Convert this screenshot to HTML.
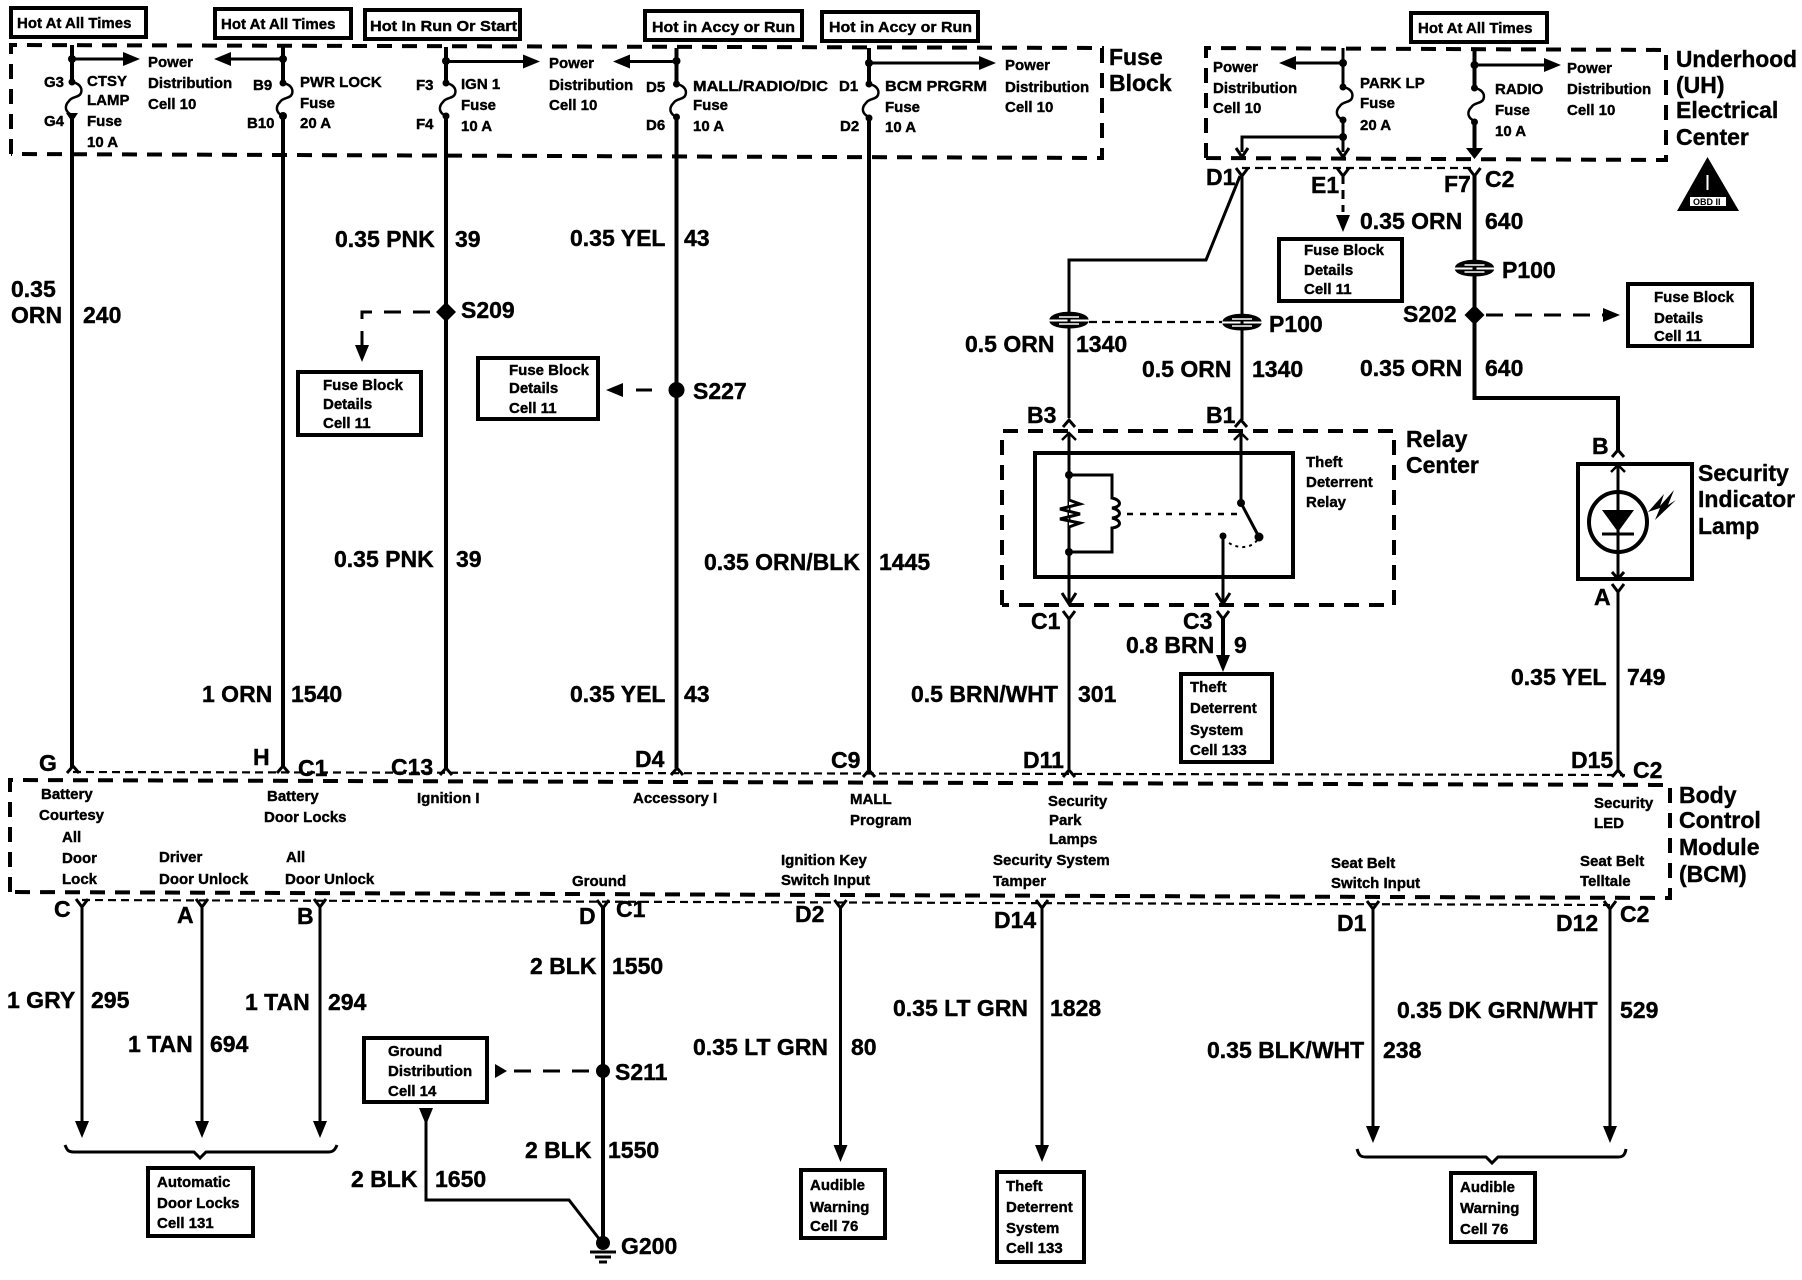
<!DOCTYPE html>
<html><head><meta charset="utf-8"><style>
html,body{margin:0;padding:0;background:#fff}
svg{display:block}
text{font-family:"Liberation Sans",sans-serif;font-weight:700;fill:#000;stroke:#000;stroke-width:.4}
.s text,text.s{font-size:15px}
.m text,text.m{font-size:23px}
.w{fill:none;stroke:#000;stroke-width:4}
.t{fill:none;stroke:#000;stroke-width:3}
.d{fill:none;stroke:#000;stroke-width:4;stroke-dasharray:15 10}
.h{fill:none;stroke:#000;stroke-width:2.2;stroke-dasharray:8 5}
.e{fill:none;stroke:#000;stroke-width:3;stroke-dasharray:17 12}
.b{fill:#fff;stroke:#000;stroke-width:4}
</style></head><body>
<svg xmlns="http://www.w3.org/2000/svg" width="1802" height="1280" viewBox="0 0 1802 1280">
<defs>
<path id="ad" d="M0 0L-7 -17L7 -17Z"/>
<path id="ar" d="M0 0L-17 -7L-17 7Z"/>
<path id="al" d="M0 0L17 -7L17 7Z"/>
<path id="au" d="M-7 7L0 0L7 7M0 0V12" fill="none" stroke="#000" stroke-width="2.5"/>
<path id="ou" d="M-6 7L0 0L6 7" fill="none" stroke="#000" stroke-width="3"/>
<path id="yd" d="M-6 -7L0 1L6 -7" fill="none" stroke="#000" stroke-width="3"/>
<path id="fu" d="M0 0C6 1 11 5 9 11C7 16 0 14 -3 19C-8 24 -7 30 0 33" fill="none" stroke="#000" stroke-width="2.5"/>
<g id="p1"><path d="M-19 -1C-16 -10 16 -10 19 -1L-19 -1ZM-19 2C-16 10 16 10 19 2Z" fill="#000" stroke="#000" stroke-width="1"/><path d="M-10 -3H10M-10 4H10" stroke="#fff" stroke-width="1.500"/></g>
<path id="dm" d="M0 -10L10 0L0 10L-10 0Z"/>
</defs>

<!-- dashed module outlines -->
<path class="d" d="M11 154V45L1102 48V158L11 154"/>
<path class="d" d="M1206 158V48L1666 50V160L1206 158"/>
<path class="d" d="M1002 605V431H1394V605H1002"/>
<path class="d" d="M10 892V780L1670 785V898L10 892"/>
<path class="h" d="M73 772L1625 775"/>
<path class="h" d="M82 900L1610 905"/>
<path class="h" d="M1242 168H1474"/>

<!-- source boxes -->
<g class="b">
<rect class="b" x="11" y="8" width="135" height="29"/>
<rect class="b" x="215" y="9" width="136" height="29"/>
<rect class="b" x="365" y="10" width="155" height="29"/>
<rect class="b" x="645" y="11" width="157" height="29"/>
<rect class="b" x="822" y="12" width="156" height="29"/>
<rect class="b" x="1411" y="13" width="136" height="29"/>
<rect class="b" x="1279" y="239" width="123" height="62"/>
<rect class="b" x="1628" y="284" width="124" height="62"/>
<rect class="b" x="298" y="372" width="123" height="63"/>
<rect class="b" x="478" y="358" width="120" height="61"/>
<rect class="b" x="1181" y="674" width="91" height="88"/>
<rect class="b" x="364" y="1038" width="123" height="64"/>
<rect class="b" x="148" y="1168" width="105" height="68"/>
<rect class="b" x="801" y="1170" width="84" height="68"/>
<rect class="b" x="997" y="1172" width="87" height="90"/>
<rect class="b" x="1451" y="1173" width="84" height="69"/>
<rect class="b" x="1035" y="453" width="258" height="124"/>
<rect class="b" x="1578" y="464" width="114" height="115"/>
</g>

<!-- main vertical wires -->
<path class="w" d="M72 45V82M72 115V768"/>
<path class="w" d="M283 45V82M283 115V768"/>
<path class="w" d="M446 47V83M446 116V768"/>
<path class="w" d="M676.500 48V83M676.500 116V768"/>
<path class="w" d="M869 48V84M869 117V770"/>
<use href="#fu" x="72" y="82"/><use href="#fu" x="283" y="83"/><use href="#fu" x="446" y="83"/><use href="#fu" x="676.500" y="84"/><use href="#fu" x="869" y="84"/>
<g fill="#000">
<circle cx="72" cy="59" r="4"/><circle cx="72" cy="82" r="3.500"/><path d="M66 113H78L72 122Z"/>
<circle cx="283" cy="59" r="4"/><circle cx="283" cy="83" r="3.500"/><circle cx="283" cy="116" r="4"/>
<circle cx="446" cy="61" r="4"/><circle cx="446" cy="83" r="3.500"/><circle cx="446" cy="116" r="3.500"/>
<circle cx="676.500" cy="61" r="4"/><circle cx="676.500" cy="84" r="3.500"/><circle cx="676.500" cy="117" r="3.500"/>
<circle cx="869" cy="63" r="4"/><circle cx="869" cy="84" r="3.500"/><circle cx="869" cy="118" r="3.500"/>
</g>
<path class="t" d="M72 59H125M283 59H228M446 61.500H525M676.500 61.500H628M869 63H980M1343 63H1293M1474.500 65H1547"/>
<use href="#ar" x="140" y="59"/><use href="#al" x="214" y="59"/><use href="#ar" x="540" y="61.500"/><use href="#al" x="613" y="61.500"/><use href="#ar" x="996" y="63"/><use href="#al" x="1279" y="63"/><use href="#ar" x="1561" y="65"/>

<!-- underhood wires -->
<path class="t" d="M1343 48V87M1343 120V152M1343 137H1242V152"/>
<path class="w" d="M1474.500 50V87M1474.500 120V152"/>
<use href="#fu" x="1343" y="87"/><use href="#fu" x="1474.500" y="88"/>
<g fill="#000">
<circle cx="1343" cy="63" r="4"/><circle cx="1343" cy="87" r="3.500"/><circle cx="1343" cy="120" r="3.500"/><circle cx="1343" cy="137" r="4"/>
<circle cx="1474.500" cy="65" r="4"/><circle cx="1474.500" cy="88" r="3.500"/><circle cx="1474.500" cy="122" r="3.500"/>
</g>
<path class="t" d="M1236 148L1242 157L1248 148M1337 148L1343 157L1349 148"/>
<path d="M1466 148L1474.500 159L1483 148Z"/>
<use href="#yd" x="1242" y="175"/><use href="#yd" x="1343" y="175"/><use href="#yd" x="1474.500" y="175"/>

<!-- D1 / E1 / F7 paths -->
<path class="t" d="M1242 175V420"/>
<path class="t" d="M1240 176L1206 260H1069V418"/>
<path d="M1343 175V212" fill="none" stroke="#000" stroke-width="3" stroke-dasharray="9 6"/>
<use href="#ad" x="1343" y="232"/>
<path class="w" d="M1474.500 175V398H1618V450"/>
<use href="#p1" x="1069" y="320"/><use href="#p1" x="1242" y="322"/><use href="#p1" x="1474.500" y="268"/>
<path class="h" d="M1089 322H1222"/>
<use href="#dm" x="1474.500" y="315"/>
<path class="e" d="M1486 315H1603"/>
<use href="#ar" x="1620" y="315"/>
<use href="#ou" x="1069" y="420"/><use href="#ou" x="1241" y="420"/>

<!-- relay -->
<path class="t" d="M1069 433V603M1241 433V503"/>
<use href="#au" x="1069" y="433"/><use href="#au" x="1241" y="433"/>
<path class="t" d="M1069 475H1112V498C1122 500 1122 507 1112 508C1122 510 1122 517 1112 518C1122 520 1122 527 1112 528V552H1069"/>
<path d="M1069 500L1080 504L1060 509L1080 514L1060 519L1080 523L1069 527" fill="#fff" stroke="#000" stroke-width="3"/>
<path d="M1127 514H1239" fill="none" stroke="#000" stroke-width="2.500" stroke-dasharray="6 7"/>
<path class="t" d="M1241 503L1259 537"/>
<path class="t" d="M1223 536V603"/>
<path d="M1229 543C1240 550 1254 548 1259 537" fill="none" stroke="#000" stroke-width="2" stroke-dasharray="3 4"/>
<g fill="#000"><circle cx="1069" cy="475" r="4"/><circle cx="1069" cy="552" r="4"/><circle cx="1241" cy="503" r="4"/><circle cx="1259" cy="537" r="4.500"/><circle cx="1223" cy="536" r="3.500"/></g>
<path class="t" d="M1062 593L1069 604L1076 593M1216 593L1223 604L1230 593"/>
<use href="#yd" x="1069" y="618"/><use href="#yd" x="1223" y="618"/>
<path class="t" d="M1069 618V770"/>
<path class="w" d="M1223 618V660"/>
<use href="#ad" x="1223" y="672"/>
<use href="#ou" x="1069" y="770"/>

<!-- security lamp -->
<use href="#ou" x="1618" y="450"/>
<path class="t" d="M1618 465V579"/>
<use href="#au" x="1618" y="465"/>
<ellipse cx="1618" cy="522" rx="29" ry="30" fill="none" stroke="#000" stroke-width="4"/>
<path d="M1602 510H1634L1618 532Z"/>
<path class="t" d="M1602 534H1634"/>
<path d="M1648 512L1664 494L1660 506L1674 490L1668 505L1676 500L1655 520L1660 508Z"/>
<path class="t" d="M1612 572L1618 579L1624 572"/>
<use href="#yd" x="1618" y="591"/>
<path class="t" d="M1618 591V770"/>
<use href="#ou" x="1618" y="770"/>

<!-- splices -->
<use href="#dm" x="446" y="312"/>
<path class="e" d="M430 312H362V345"/>
<use href="#ad" x="362" y="362"/>
<circle cx="676.500" cy="390" r="8"/>
<path class="e" d="M652 390H636"/>
<use href="#al" x="606" y="390"/>

<!-- upper connector marks -->
<use href="#ou" x="73" y="766"/><use href="#ou" x="283" y="766"/><use href="#ou" x="446" y="768"/><use href="#ou" x="677" y="768"/><use href="#ou" x="869" y="770"/>

<!-- bottom wires -->
<use href="#yd" x="82" y="906"/><use href="#yd" x="202" y="906"/><use href="#yd" x="320" y="906"/><use href="#yd" x="603" y="907"/><use href="#yd" x="840.500" y="907"/><use href="#yd" x="1042" y="907"/><use href="#yd" x="1373" y="908"/><use href="#yd" x="1610" y="908"/>
<path class="t" d="M82 906V1125M202 906V1125M320 906V1125M840.500 907V1150M1042 907V1150M1373 908V1130M1610 908V1130"/>
<use href="#ad" x="82" y="1138"/><use href="#ad" x="202" y="1138"/><use href="#ad" x="320" y="1138"/><use href="#ad" x="840.500" y="1162"/><use href="#ad" x="1042" y="1162"/><use href="#ad" x="1373" y="1143"/><use href="#ad" x="1610" y="1143"/>
<path class="w" d="M603 907V1240"/>
<circle cx="603" cy="1071" r="7"/>
<path class="e" d="M589 1071H510"/>
<path d="M507 1071L495 1064V1078Z"/>
<path d="M426 1125L419 1108H433Z"/>
<path class="t" d="M426 1120V1200H569L600 1240"/>
<circle cx="603" cy="1243" r="7"/>
<path class="t" d="M590 1252H616M595 1257H611M599 1262H607"/>
<path class="t" d="M65 1145C67 1150 68 1152 74 1152H194L200 1158L206 1152H328C333 1152 335 1150 337 1145"/>
<path class="t" d="M1357 1149C1359 1155 1360 1157 1366 1157H1486L1492 1163L1498 1157H1618C1623 1157 1625 1155 1626 1149"/>

<!-- OBD triangle -->
<path d="M1707.500 157L1739 211H1677Z"/>
<rect x="1690" y="197" width="36" height="9" fill="#fff"/>
<path d="M1707.500 175V190" stroke="#fff" stroke-width="2"/>
<text x="1693" y="205" style="font-size:9px;stroke-width:0">OBD II</text>

<g class="s">
<text x="17" y="28">Hot At All Times</text>
<text x="221" y="29">Hot At All Times</text>
<text x="370" y="31" textLength="147" lengthAdjust="spacingAndGlyphs">Hot In Run Or Start</text>
<text x="652" y="32" textLength="143" lengthAdjust="spacingAndGlyphs">Hot in Accy or Run</text>
<text x="829" y="32" textLength="143" lengthAdjust="spacingAndGlyphs">Hot in Accy or Run</text>
<text x="1418" y="33">Hot At All Times</text>

<text x="44" y="87">G3</text><text x="44" y="126">G4</text>
<text x="87" y="86">CTSY</text><text x="87" y="105">LAMP</text><text x="87" y="126">Fuse</text><text x="87" y="147">10 A</text>
<text x="148" y="67">Power</text><text x="148" y="88">Distribution</text><text x="148" y="109">Cell 10</text>
<text x="253" y="90">B9</text><text x="247" y="128">B10</text>
<text x="300" y="87">PWR LOCK</text><text x="300" y="108">Fuse</text><text x="300" y="128">20 A</text>
<text x="416" y="90">F3</text><text x="416" y="129">F4</text>
<text x="461" y="89">IGN 1</text><text x="461" y="110">Fuse</text><text x="461" y="131">10 A</text>
<text x="549" y="68">Power</text><text x="549" y="90">Distribution</text><text x="549" y="110">Cell 10</text>
<text x="646" y="92">D5</text><text x="646" y="130">D6</text>
<text x="693" y="91" textLength="135" lengthAdjust="spacingAndGlyphs">MALL/RADIO/DIC</text><text x="693" y="110">Fuse</text><text x="693" y="131">10 A</text>
<text x="839" y="91">D1</text><text x="840" y="131">D2</text>
<text x="885" y="91" textLength="102" lengthAdjust="spacingAndGlyphs">BCM PRGRM</text><text x="885" y="112">Fuse</text><text x="885" y="132">10 A</text>
<text x="1005" y="70">Power</text><text x="1005" y="92">Distribution</text><text x="1005" y="112">Cell 10</text>
<text x="1213" y="72">Power</text><text x="1213" y="93">Distribution</text><text x="1213" y="113">Cell 10</text>
<text x="1360" y="88">PARK LP</text><text x="1360" y="108">Fuse</text><text x="1360" y="130">20 A</text>
<text x="1495" y="94">RADIO</text><text x="1495" y="115">Fuse</text><text x="1495" y="136">10 A</text>
<text x="1567" y="73">Power</text><text x="1567" y="94">Distribution</text><text x="1567" y="115">Cell 10</text>

<text x="1304" y="255">Fuse Block</text><text x="1304" y="275">Details</text><text x="1304" y="294">Cell 11</text>
<text x="1654" y="302">Fuse Block</text><text x="1654" y="323">Details</text><text x="1654" y="341">Cell 11</text>
<text x="323" y="390">Fuse Block</text><text x="323" y="409">Details</text><text x="323" y="428">Cell 11</text>
<text x="509" y="375">Fuse Block</text><text x="509" y="393">Details</text><text x="509" y="413">Cell 11</text>
<text x="1306" y="467">Theft</text><text x="1306" y="487">Deterrent</text><text x="1306" y="507">Relay</text>
<text x="1190" y="692">Theft</text><text x="1190" y="713">Deterrent</text><text x="1190" y="735">System</text><text x="1190" y="755">Cell 133</text>

<text x="41" y="799">Battery</text><text x="39" y="820">Courtesy</text><text x="62" y="842">All</text><text x="62" y="863">Door</text><text x="62" y="884">Lock</text>
<text x="159" y="862">Driver</text><text x="159" y="884">Door Unlock</text>
<text x="286" y="862">All</text><text x="285" y="884">Door Unlock</text>
<text x="267" y="801">Battery</text><text x="264" y="822">Door Locks</text>
<text x="417" y="803">Ignition I</text><text x="633" y="803">Accessory I</text><text x="572" y="886">Ground</text>
<text x="850" y="804">MALL</text><text x="850" y="825">Program</text>
<text x="1048" y="806">Security</text><text x="1049" y="825">Park</text><text x="1049" y="844">Lamps</text>
<text x="1594" y="808">Security</text><text x="1594" y="828">LED</text>
<text x="781" y="865">Ignition Key</text><text x="781" y="885">Switch Input</text>
<text x="993" y="865">Security System</text><text x="993" y="886">Tamper</text>
<text x="1331" y="868">Seat Belt</text><text x="1331" y="888">Switch Input</text>
<text x="1580" y="866">Seat Belt</text><text x="1580" y="886">Telltale</text>

<text x="388" y="1056">Ground</text><text x="388" y="1076">Distribution</text><text x="388" y="1096">Cell 14</text>
<text x="157" y="1187">Automatic</text><text x="157" y="1208">Door Locks</text><text x="157" y="1228">Cell 131</text>
<text x="810" y="1190">Audible</text><text x="810" y="1212">Warning</text><text x="810" y="1231">Cell 76</text>
<text x="1006" y="1191">Theft</text><text x="1006" y="1212">Deterrent</text><text x="1006" y="1233">System</text><text x="1006" y="1253">Cell 133</text>
<text x="1460" y="1192">Audible</text><text x="1460" y="1213">Warning</text><text x="1460" y="1234">Cell 76</text>
</g>

<g class="m">
<text x="1109" y="65">Fuse</text><text x="1109" y="91">Block</text>
<text x="1676" y="67" textLength="121" lengthAdjust="spacingAndGlyphs">Underhood</text><text x="1676" y="93">(UH)</text><text x="1676" y="118">Electrical</text><text x="1676" y="145">Center</text>
<text x="1206" y="185">D1</text><text x="1311" y="193">E1</text><text x="1444" y="192">F7</text><text x="1485" y="187">C2</text>
<text x="1360" y="229">0.35 ORN</text><text x="1485" y="229">640</text>
<text x="1502" y="278">P100</text><text x="1269" y="332">P100</text>
<text x="1403" y="322">S202</text>
<text x="1360" y="376">0.35 ORN</text><text x="1485" y="376">640</text>
<text x="965" y="352">0.5 ORN</text><text x="1076" y="352">1340</text>
<text x="1142" y="377">0.5 ORN</text><text x="1252" y="377">1340</text>
<text x="1027" y="423">B3</text><text x="1206" y="423">B1</text>
<text x="1406" y="447">Relay</text><text x="1406" y="473">Center</text>
<text x="1698" y="481">Security</text><text x="1698" y="507">Indicator</text><text x="1698" y="534">Lamp</text>
<text x="1031" y="629">C1</text><text x="1183" y="629">C3</text>
<text x="1126" y="653">0.8 BRN</text><text x="1234" y="653">9</text>
<text x="1594" y="605">A</text><text x="1592" y="454">B</text>
<text x="1511" y="685">0.35 YEL</text><text x="1627" y="685">749</text>
<text x="911" y="702">0.5 BRN/WHT</text><text x="1078" y="702">301</text>
<text x="1023" y="768">D11</text><text x="1571" y="768">D15</text><text x="1633" y="778">C2</text>

<text x="335" y="247">0.35 PNK</text><text x="455" y="247">39</text>
<text x="570" y="246">0.35 YEL</text><text x="684" y="246">43</text>
<text x="11" y="297">0.35</text><text x="11" y="323">ORN</text><text x="83" y="323">240</text>
<text x="461" y="318">S209</text><text x="693" y="399">S227</text>
<text x="334" y="567">0.35 PNK</text><text x="456" y="567">39</text>
<text x="704" y="570">0.35 ORN/BLK</text><text x="879" y="570">1445</text>
<text x="570" y="702">0.35 YEL</text><text x="684" y="702">43</text>
<text x="202" y="702">1 ORN</text><text x="291" y="702">1540</text>
<text x="39" y="771">G</text><text x="253" y="765">H</text><text x="298" y="776">C1</text><text x="391" y="775">C13</text><text x="635" y="767">D4</text><text x="831" y="768">C9</text>

<text x="1679" y="803">Body</text><text x="1679" y="828">Control</text><text x="1679" y="855">Module</text><text x="1679" y="882">(BCM)</text>
<text x="54" y="917">C</text><text x="177" y="923">A</text><text x="297" y="924">B</text><text x="579" y="924">D</text><text x="616" y="917">C1</text>
<text x="795" y="922">D2</text><text x="994" y="928">D14</text><text x="1337" y="931">D1</text><text x="1556" y="931">D12</text><text x="1620" y="922">C2</text>
<text x="7" y="1008">1 GRY</text><text x="91" y="1008">295</text>
<text x="128" y="1052">1 TAN</text><text x="210" y="1052">694</text>
<text x="245" y="1010">1 TAN</text><text x="328" y="1010">294</text>
<text x="530" y="974">2 BLK</text><text x="612" y="974">1550</text>
<text x="525" y="1158">2 BLK</text><text x="608" y="1158">1550</text>
<text x="615" y="1080">S211</text>
<text x="351" y="1187">2 BLK</text><text x="435" y="1187">1650</text>
<text x="621" y="1254">G200</text>
<text x="893" y="1016">0.35 LT GRN</text><text x="1050" y="1016">1828</text>
<text x="693" y="1055">0.35 LT GRN</text><text x="851" y="1055">80</text>
<text x="1397" y="1018">0.35 DK GRN/WHT</text><text x="1620" y="1018">529</text>
<text x="1207" y="1058">0.35 BLK/WHT</text><text x="1383" y="1058">238</text>
</g>
</svg>
</body></html>
